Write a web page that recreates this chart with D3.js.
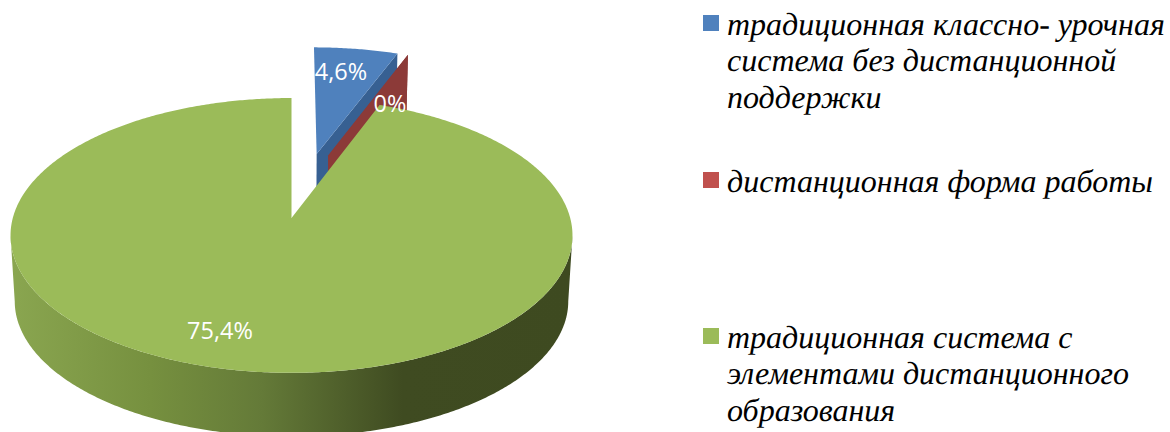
<!DOCTYPE html>
<html lang="ru">
<head>
    <meta charset="UTF-8">
    <title>Pie</title>
    <style>
        html, body { margin: 0; padding: 0; background: #fff; overflow: hidden; }
        .value { font-family: "Open Sans", sans-serif; font-size: 23.5px; fill: #fff; text-anchor: middle; }
        .legend text { font-family: "Liberation Serif", serif; font-style: italic; font-size: 32px; fill: #000; text-rendering: geometricPrecision; }
    </style>
</head>
<body>
    <svg width="1170" height="432"></svg>

    <script src="https://d3js.org/d3.v7.min.js" charset="utf-8"></script>
    <script>
        (function() {
            'use strict';

            var categories = [
                ["традиционная классно- урочная", "система без дистанционной", "поддержки"],
                ["дистанционная форма работы"],
                ["традиционная система с", "элементами дистанционного", "образования"]
            ];
            var values = [4.6, 0, 75.4];
            var topColors = ["#4f81bd", "#c0504d", "#9bbb59"];
            var wallColors = ["#376092", "#8c3a38", "#3e4a20"];

            // ground plane -> screen, perspective fitted to the picture
            var APEX_X = 291.5, APEX_Y = 218;
            var RADIUS_X = 278.7, RADIUS_Y = 135.2, PERSPECTIVE = 0.127;
            var DEPTH = 66, DEPTH_SCALE = 0.985;

            // how far each slice is pulled away from the green one
            var offsets = [[0.096, 0.503], [0.140, 0.491], [0, 0]];

            var x = d3.scaleLinear().domain([0, 1]).range([APEX_X, APEX_X + RADIUS_X]);
            var y = d3.scaleLinear().domain([0, 1]).range([APEX_Y, APEX_Y - RADIUS_Y]);

            function project(u, v) {
                var s = 1 / (1 + PERSPECTIVE * v);
                return [x(u * s), y(v * s)];
            }
            function lower(p) {
                return [APEX_X + (p[0] - APEX_X) * DEPTH_SCALE,
                        APEX_Y + (p[1] - APEX_Y) * DEPTH_SCALE + DEPTH];
            }
            function rim(a, off) {
                return project(off[0] + Math.sin(a), off[1] + Math.cos(a));
            }
            function sample(a0, a1) {
                var n = Math.max(2, Math.ceil(Math.abs(a1 - a0) / 0.01));
                return d3.range(n + 1).map(function(i) { return a0 + (a1 - a0) * i / n; });
            }

            var line = d3.line();
            var pie = d3.pie().sort(null).value(function(d) { return d; });
            var arcs = pie(values);

            var svg = d3.select("svg");

            var grad = svg.append("defs").append("linearGradient")
                .attr("id", "wall")
                .attr("gradientUnits", "userSpaceOnUse")
                .attr("x1", 10).attr("x2", 571).attr("y1", 0).attr("y2", 0);
            [[0, "#8aa650"], [0.25, "#76903f"], [0.45, "#647a38"], [0.7, "#3f4b21"], [1, "#3e4a20"]]
                .forEach(function(s) {
                    grad.append("stop").attr("offset", s[0]).attr("stop-color", s[1]);
                });

            // walls of the pulled out slices go first, green covers them
            [0, 1].forEach(function(i) {
                var off = offsets[i];
                var apex = project(off[0], off[1]);
                var outer = rim(arcs[i].endAngle, off);
                svg.append("path")
                    .attr("d", line([apex, outer, lower(outer), lower(apex)]) + "Z")
                    .attr("fill", wallColors[i]);
            });

            var blue = arcs[0];
            svg.append("path")
                .attr("d", line([project(offsets[0][0], offsets[0][1])].concat(
                    sample(blue.startAngle, blue.endAngle).map(function(a) { return rim(a, offsets[0]); })
                )) + "Z")
                .attr("fill", topColors[0]);

            // red slice has zero angle, so only its wall shows
            var redApex = project(offsets[1][0], offsets[1][1]);
            var redOuter = rim(arcs[1].endAngle, offsets[1]);
            svg.append("path")
                .attr("d", line([redApex, redOuter, lower(redOuter), lower(redApex)]) + "Z")
                .attr("fill", wallColors[1]);

            // green slice: side wall along the front, then the top
            var green = arcs[2];
            var frontFrom = Math.PI - Math.acos(PERSPECTIVE);
            var frontTo = Math.PI + Math.acos(PERSPECTIVE);
            var front = sample(frontFrom, frontTo).map(function(a) { return rim(a, offsets[2]); });
            svg.append("path")
                .attr("d", line(front.concat(front.map(lower).reverse())) + "Z")
                .attr("fill", "url(#wall)");

            svg.append("path")
                .attr("d", line([project(0, 0)].concat(
                    sample(green.startAngle, green.endAngle).map(function(a) { return rim(a, offsets[2]); })
                )) + "Z")
                .attr("fill", topColors[2]);

            // value labels
            var labelAt = [[341, 79.5], [390, 112], [220, 339]];
            var fmt = d3.format(".1f");
            svg.selectAll(".value")
                .data(values)
                .enter()
                .append("text")
                .attr("class", "value")
                .attr("x", function(d, i) { return labelAt[i][0]; })
                .attr("y", function(d, i) { return labelAt[i][1]; })
                .text(function(d) {
                    return d === 0 ? "0%" : fmt(d).replace(".", ",") + "%";
                });

            // legend
            var LEGEND_X = 703, TEXT_X = 727, BOX = 16, LINE = 36.4;
            var legendTop = [15, 172, 328];
            var legend = svg.selectAll(".legend")
                .data(categories)
                .enter()
                .append("g")
                .attr("class", "legend")
                .attr("transform", function(d, i) { return "translate(0," + legendTop[i] + ")"; });

            legend.append("rect")
                .attr("x", LEGEND_X)
                .attr("width", BOX)
                .attr("height", BOX)
                .attr("fill", function(d, i) { return topColors[i]; });

            legend.selectAll("text")
                .data(function(d) { return d; })
                .enter()
                .append("text")
                .attr("x", TEXT_X)
                .attr("y", function(d, i) { return 20 + i * LINE; })
                .text(function(d) { return d; });
        })();
    </script>
</body>
</html>
